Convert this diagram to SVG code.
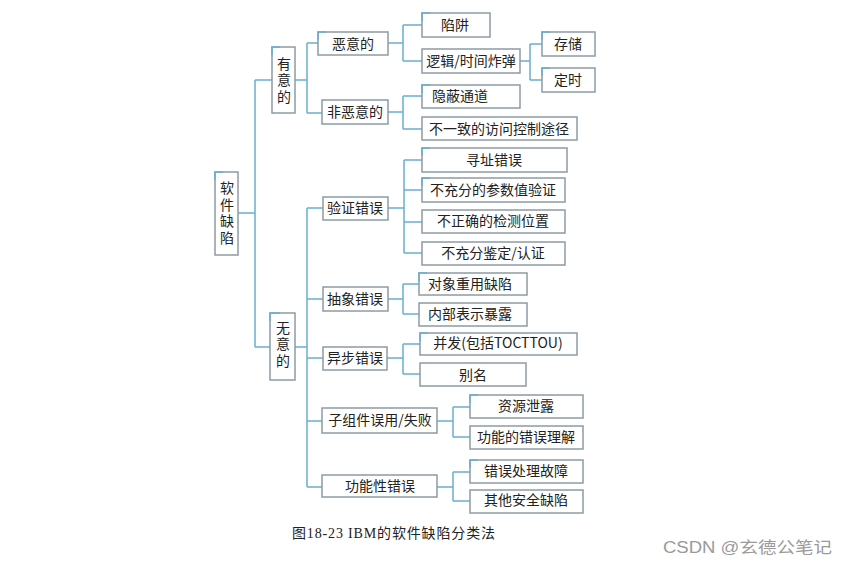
<svg xmlns="http://www.w3.org/2000/svg" width="848" height="566" viewBox="0 0 848 566">
<style>
.bx{fill:#fff;stroke:#8c9ca3;stroke-width:1.5}
.hl{fill:none;stroke:#6aaed0;stroke-width:1.5}
.ln{fill:none;stroke:#6aaed0;stroke-width:1.5}
.t{font-family:"Noto Sans CJK SC","Liberation Serif",serif;font-size:14px;fill:#222;text-anchor:middle}
.v{font-family:"Noto Sans CJK SC","Liberation Serif",serif;font-size:14px;fill:#222;text-anchor:middle;writing-mode:vertical-rl;letter-spacing:2.5px}
.cap{font-family:"Liberation Serif","Noto Sans CJK SC",serif;font-size:14px;fill:#222}
.wm{font-family:"Liberation Sans","Noto Sans CJK SC",sans-serif;font-size:16px;fill:#9a9a9a}
</style>
<rect width="848" height="566" fill="#fff"/>
<g id="connectors" class="ln">
<path d="M238 213H255M255 80V347M255 80H272M255 347H270"/>
<path d="M295 80H307M307 43V113M307 43H318M307 113H322"/>
<path d="M388 43H403M403 25V61M403 25H422M403 61H422"/>
<path d="M520 61H530M530 44V80M530 44H542M530 80H542"/>
<path d="M388 112H403M403 96V129M403 96H422M403 129H422"/>
<path d="M295 347H307M307 208V487M307 208H323M307 299H323M307 358H323M307 421H322M307 487H322"/>
<path d="M388 208H404M404 160V253M404 160H422M404 190H422M404 222H422M404 253H422"/>
<path d="M388 299H403M403 284V314M403 284H419M403 314H419"/>
<path d="M387 358H403M403 344V374M403 344H420M403 374H420"/>
<path d="M437 421H453M453 407V437M453 407H470M453 437H470"/>
<path d="M437 487H453M453 472V501M453 472H470M453 501H470"/>
</g>
<g id="n-root"><rect class="bx" x="215" y="172" width="23" height="83"/><path class="hl" d="M215 180V172H223"/>
<text class="v" x="227" y="214">软件缺陷</text></g>
<g id="n-youyi"><rect class="bx" x="272" y="47" width="23" height="66"/><path class="hl" d="M272 55V47H280"/>
<text class="v" x="284" y="81">有意的</text></g>
<g id="n-wuyi"><rect class="bx" x="270" y="313" width="25" height="67"/><path class="hl" d="M270 321V313H280"/>
<text class="v" x="283" y="345">无意的</text></g>
<g id="n-eyi"><rect class="bx" x="318" y="32" width="70" height="23"/><path class="hl" d="M318 40V32H326"/><text class="t" x="353" y="49">恶意的</text></g>
<g id="n-feieyi"><rect class="bx" x="322" y="100" width="66" height="24"/><text class="t" x="355" y="117">非恶意的</text></g>
<g id="n-xianjing"><rect class="bx" x="422" y="13" width="68" height="24"/><path class="hl" d="M422 21V13H430"/><text class="t" x="455" y="30">陷阱</text></g>
<g id="n-luoji"><rect class="bx" x="422" y="49" width="98" height="24"/><text class="t" x="471" y="66">逻辑/时间炸弹</text></g>
<g id="n-cunchu"><rect class="bx" x="542" y="32" width="53" height="24"/><path class="hl" d="M542 40V32H550"/><text class="t" x="568" y="49">存储</text></g>
<g id="n-dingshi"><rect class="bx" x="542" y="68" width="53" height="24"/><path class="hl" d="M542 76V68H550"/><text class="t" x="568" y="85">定时</text></g>
<g id="n-yinbi"><rect class="bx" x="422" y="85" width="98" height="23"/><path class="hl" d="M422 93V85H430"/><text class="t" x="460" y="101">隐蔽通道</text></g>
<g id="n-buyizhi"><rect class="bx" x="422" y="117" width="155" height="23"/><text class="t" x="499" y="134">不一致的访问控制途径</text></g>
<g id="n-yanzheng"><rect class="bx" x="323" y="197" width="65" height="23"/><text class="t" x="355" y="213">验证错误</text></g>
<g id="n-xunzhi"><rect class="bx" x="422" y="148" width="145" height="24"/><path class="hl" d="M422 156V148H430"/><text class="t" x="494" y="165">寻址错误</text></g>
<g id="n-canshu"><rect class="bx" x="422" y="178" width="143" height="24"/><path class="hl" d="M422 186V178H430"/><text class="t" x="493" y="195">不充分的参数值验证</text></g>
<g id="n-jiance"><rect class="bx" x="422" y="210" width="143" height="23"/><text class="t" x="493" y="226">不正确的检测位置</text></g>
<g id="n-jianding"><rect class="bx" x="422" y="242" width="143" height="23"/><text class="t" x="493" y="258">不充分鉴定/认证</text></g>
<g id="n-chouxiang"><rect class="bx" x="323" y="287" width="65" height="24"/><text class="t" x="355" y="304">抽象错误</text></g>
<g id="n-duixiang"><rect class="bx" x="419" y="273" width="108" height="22"/><path class="hl" d="M419 281V273H427"/><text class="t" x="470" y="289">对象重用缺陷</text></g>
<g id="n-neibu"><rect class="bx" x="419" y="303" width="108" height="23"/><text class="t" x="470" y="319">内部表示暴露</text></g>
<g id="n-yibu"><rect class="bx" x="323" y="347" width="64" height="23"/><text class="t" x="355" y="363">异步错误</text></g>
<g id="n-bingfa"><rect class="bx" x="420" y="333" width="157" height="22"/><path class="hl" d="M420 341V333H428"/><text class="t" x="498" y="348">并发(包括TOCTTOU)</text></g>
<g id="n-bieming"><rect class="bx" x="420" y="363" width="106" height="23"/><text class="t" x="473" y="380">别名</text></g>
<g id="n-zizujian"><rect class="bx" x="322" y="408" width="115" height="25"/><text class="t" x="380" y="425">子组件误用/失败</text></g>
<g id="n-ziyuan"><rect class="bx" x="470" y="395" width="113" height="23"/><path class="hl" d="M470 403V395H478"/><text class="t" x="526" y="411">资源泄露</text></g>
<g id="n-lijie"><rect class="bx" x="470" y="426" width="113" height="23"/><text class="t" x="526" y="442">功能的错误理解</text></g>
<g id="n-gongneng"><rect class="bx" x="322" y="475" width="115" height="22"/><text class="t" x="380" y="491">功能性错误</text></g>
<g id="n-chuli"><rect class="bx" x="470" y="460" width="113" height="23"/><path class="hl" d="M470 468V460H478"/><text class="t" x="526" y="476">错误处理故障</text></g>
<g id="n-qita"><rect class="bx" x="470" y="490" width="113" height="23"/><text class="t" x="526" y="505">其他安全缺陷</text></g>
<text class="cap" x="292" y="538" textLength="203" lengthAdjust="spacing">图18-23 IBM的软件缺陷分类法</text>
<text class="wm" x="663" y="553" textLength="169" lengthAdjust="spacingAndGlyphs">CSDN @玄德公笔记</text>
</svg>
